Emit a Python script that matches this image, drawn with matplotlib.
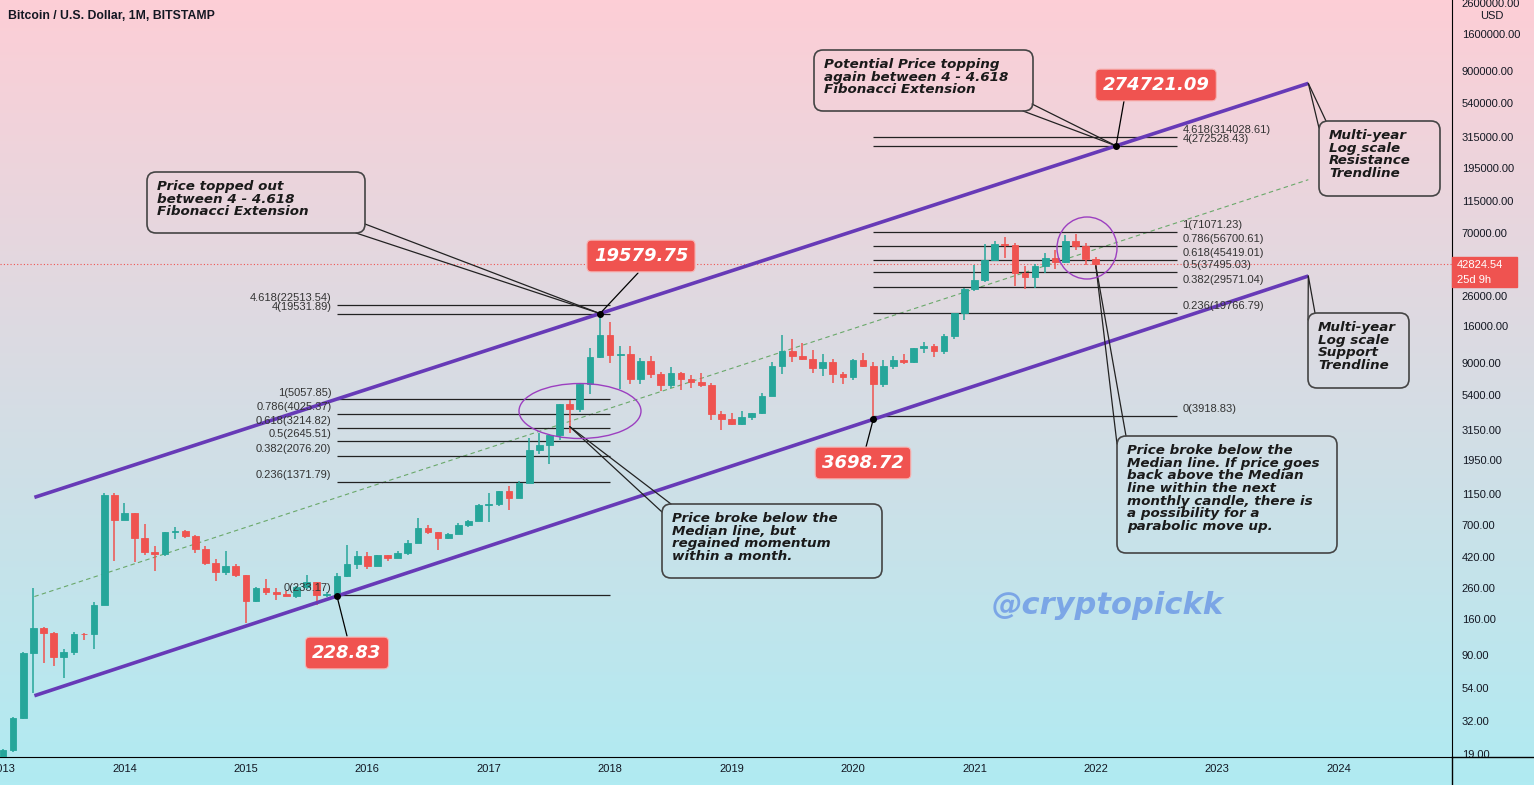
import matplotlib
matplotlib.use("Agg")
import matplotlib.pyplot as plt
import numpy as np
from matplotlib.patches import FancyBboxPatch, Ellipse, Rectangle
from matplotlib.lines import Line2D
from matplotlib.ticker import NullLocator
from matplotlib.transforms import IdentityTransform

W, H = 1534, 785
PIX = IdentityTransform()

# ---- data: BTC/USD monthly candles, Jan 2013 .. Jan 2022 (month 0 = Jan 2013)
opens = [13.5, 20.4, 33.4, 93, 139, 127, 87, 95, 126, 125, 199, 1130,
         760, 840, 567, 459, 445, 630, 640, 585, 480, 385, 335, 370,
         318, 212, 258, 245, 236, 230, 264, 285, 233, 236, 315, 380,
         432, 368, 437, 416, 448, 531, 673, 624, 574, 609, 700, 742,
         964, 970, 1190, 1080, 1348, 2300, 2480, 2870, 4735, 4340, 6450, 9950,
         13880, 10240, 10330, 6930, 9240, 7500, 6400, 7730, 7030, 6630, 6360, 4040,
         3740, 3450, 3820, 4100, 5320, 8550, 10800, 10080, 9600, 8300, 9150, 7540,
         7180, 9350, 8540, 6410, 8630, 9450, 9140, 11350, 11660, 10780, 13800, 19700,
         28990, 33110, 45160, 58800, 57700, 37300, 35040, 41490, 47100, 43800, 61300, 57000,
         46200]
highs = [20.7, 33.9, 95, 260, 140, 130, 100, 130, 128, 210, 1163, 1163,
         990, 846, 711, 500, 630, 680, 650, 600, 500, 410, 465, 380,
         320, 265, 300, 260, 247, 268, 320, 285, 245, 330, 510, 465,
         460, 440, 439, 467, 550, 780, 700, 627, 614, 720, 755, 980,
         1153, 1200, 1290, 1400, 2760, 3000, 2930, 4740, 4980, 6470, 11400, 19580,
         17170, 11780, 11700, 9750, 10020, 7780, 8500, 7760, 7410, 7680, 6600, 4240,
         4070, 4200, 4120, 5620, 9100, 13880, 13130, 12320, 10950, 10370, 9520, 7750,
         9580, 10500, 9190, 9460, 10070, 10380, 11440, 12470, 12070, 14100, 19500, 29300,
         41950, 58350, 61780, 64900, 59500, 41300, 42400, 50500, 52900, 67000, 69000, 59100,
         47990]
lows = [13.0, 19.5, 33, 50, 80, 76, 63, 90, 115, 100, 198, 400,
        760, 390, 440, 340, 430, 560, 575, 450, 375, 290, 320, 310,
        150, 210, 232, 215, 228, 222, 255, 200, 226, 236, 310, 350,
        350, 366, 395, 414, 436, 525, 606, 470, 565, 605, 680, 742,
        740, 940, 890, 1070, 1348, 2130, 1830, 2670, 2980, 4150, 5500, 9700,
        9000, 5920, 6450, 6430, 7040, 5750, 6070, 5880, 6100, 6200, 3650, 3120,
        3400, 3390, 3670, 4050, 5320, 7520, 9080, 9400, 7710, 7300, 6520, 6430,
        6860, 8450, 3850, 6150, 8120, 8910, 8980, 10540, 9880, 10380, 13200, 17600,
        28130, 32400, 45000, 47000, 30000, 28800, 29300, 37300, 39600, 43300, 53250, 42000,
        39650]
closes = [20.4, 33.4, 93, 139, 127, 87, 95, 125, 125, 199, 1130, 760,
          840, 567, 459, 445, 630, 640, 585, 480, 385, 335, 370, 318,
          212, 258, 245, 236, 230, 264, 285, 233, 236, 315, 380, 432,
          368, 437, 416, 448, 531, 673, 624, 574, 609, 700, 742, 964,
          970, 1190, 1080, 1348, 2300, 2480, 2870, 4735, 4340, 6450, 9950, 13880,
          10240, 10330, 6930, 9240, 7500, 6400, 7730, 7030, 6630, 6360, 4040, 3740,
          3450, 3820, 4100, 5320, 8550, 10800, 10080, 9600, 8300, 9150, 7540, 7180,
          9350, 8540, 6410, 8630, 9450, 9140, 11350, 11660, 10780, 13800, 19700, 28990,
          33110, 45160, 58800, 57700, 37300, 35040, 41490, 47100, 43800, 61300, 57000, 46200,
          42824.54]

last_price = 42824.54
years = list(range(2013, 2025))
price_ticks = [2600000, 1600000, 900000, 540000, 315000, 195000, 115000, 70000,
               26000, 16000, 9000, 5400, 3150, 1950, 1150, 700, 420, 260, 160,
               90, 54, 32, 19]

# trendline anchors (month, price) and extent
upper_pts = ([59, 110], [19579.75, 274721.09])
lower_pts = ([33, 86], [228.83, 3698.72])
trend_span = [3.1, 129.0]

# fib levels
fib_left_ratio = ["4.618", "4", "1", "0.786", "0.618", "0.5", "0.382", "0.236", "0"]
fib_left_price = [22513.54, 19531.89, 5057.85, 4025.37, 3214.82, 2645.51, 2076.20, 1371.79, 233.17]
fib_left_span = [33, 60]
fib_right_ratio = ["4.618", "4", "1", "0.786", "0.618", "0.5", "0.382", "0.236", "0"]
fib_right_price = [314028.61, 272528.43, 71071.23, 56700.61, 45419.01, 37495.03, 29571.04, 19766.79, 3918.83]
fib_right_span = [86, 116]

# marked points
mark_months = [110, 59, 33, 86]
mark_prices = [274721.09, 19579.75, 228.83, 3698.72]

GREEN = "#26a69a"
RED = "#ef5350"
PURPLE = "#673ab7"
TXT = "#131722"

fig = plt.figure(figsize=(W / 100, H / 100), dpi=100)

# gradient background
bg = fig.add_axes([0, 0, 1, 1], zorder=0)
top = np.array([253, 206, 214]) / 255
bot = np.array([176, 235, 242]) / 255
t = np.linspace(0, 1, 256)[:, None]
grad = top[None, None, :] * (1 - t[..., None]) + bot[None, None, :] * t[..., None]
bg.imshow(np.repeat(grad, 2, axis=1), aspect="auto", extent=[0, 1, 0, 1])
bg.axis("off")

ax = fig.add_axes([0, 28 / H, 1452 / W, 757 / H], zorder=1)
ax.set_facecolor("none")
ax.set_yscale("log")
ax.set_xlim(-0.3, 143.2)
ax.set_ylim(18.14, 2.732e6)

months = np.arange(len(opens))
o = np.array(opens, float)
hi = np.array(highs, float)
lo = np.array(lows, float)
c = np.array(closes, float)
cols = np.where(c >= o, GREEN, RED)
ax.vlines(months, lo, hi, colors=cols, lw=1.1, zorder=3)
ax.bar(months, np.abs(c - o), bottom=np.minimum(o, c), width=0.66,
       color=cols, edgecolor=cols, lw=0.6, zorder=4)

# trendlines
xs = np.array(trend_span)
def trend(pts):
    (m1, m2), (p1, p2) = pts
    k = (np.log10(p2) - np.log10(p1)) / (m2 - m1)
    return 10 ** (np.log10(p1) + k * (xs - m1))
up = trend(upper_pts)
dn = trend(lower_pts)
ax.plot(xs, up, color=PURPLE, lw=2.6, zorder=5, solid_capstyle="butt")
ax.plot(xs, dn, color=PURPLE, lw=2.6, zorder=5, solid_capstyle="butt")
ax.plot(xs, np.sqrt(up * dn), color="#6aa86a", lw=0.8, ls=(0, (4, 3)), zorder=2)

# current price dotted line
ax.axhline(last_price, color=RED, lw=0.8, ls=(0, (1, 2)), zorder=2)

# fib levels
for r, p in zip(fib_left_ratio, fib_left_price):
    ax.hlines(p, *fib_left_span, color="#222222", lw=0.9, zorder=2)
    ax.annotate(f"{r}({p:.2f})", (fib_left_span[0], p), xytext=(-4, 5),
                textcoords="offset points", ha="right", va="center",
                fontsize=8, family="Liberation Sans", color="#333333", zorder=6)
for r, p in zip(fib_right_ratio, fib_right_price):
    ax.hlines(p, *fib_right_span, color="#222222", lw=0.9, zorder=2)
    ax.annotate(f"{r}({p:.2f})", (fib_right_span[1], p), xytext=(4, 5),
                textcoords="offset points", ha="left", va="center",
                fontsize=8, family="Liberation Sans", color="#333333", zorder=6)

ax.plot(mark_months, mark_prices, "o", ms=4, color="black", zorder=8)

# axes styling
for s in ["top", "left"]:
    ax.spines[s].set_visible(False)
ax.spines["right"].set_color("black")
ax.spines["bottom"].set_color("black")
ax.yaxis.tick_right()
ax.set_yticks(price_ticks)
ax.set_yticklabels([f"{v:.2f}" for v in price_ticks])
ax.yaxis.set_minor_locator(NullLocator())
ax.set_xticks([12 * (y - 2013) for y in years])
ax.set_xticklabels([str(y) for y in years])
ax.tick_params(axis="y", length=0, pad=7, labelsize=8, labelcolor=TXT)
ax.tick_params(axis="x", length=0, pad=5, labelsize=8, labelcolor=TXT)
for lab in ax.get_xticklabels() + ax.get_yticklabels():
    lab.set_family("Liberation Sans")

# axis frame continuation
fig.add_artist(Line2D([1452, W], [H - 757, H - 757], color="black", lw=1, transform=PIX))
fig.add_artist(Line2D([1452, 1452], [0, H - 757], color="black", lw=1, transform=PIX))

fig.text(8, H - 16, "Bitcoin / U.S. Dollar, 1M, BITSTAMP", transform=PIX,
         fontsize=8.8, fontweight="bold", family="Liberation Sans", color=TXT, va="center")
fig.text(1492, H - 16, "USD", transform=PIX, fontsize=8, family="Liberation Sans",
         color=TXT, ha="center", va="center")

# last price tag on axis
fig.add_artist(Rectangle((1452, H - 287), 65, 30, color=RED, transform=PIX, zorder=5))
fig.text(1457, H - 265, "42824.54", transform=PIX, fontsize=8, family="Liberation Sans",
         color="white", va="center", zorder=6)
fig.text(1457, H - 280, "25d 9h", transform=PIX, fontsize=8, family="Liberation Sans",
         color="white", va="center", zorder=6)

# ellipses
for cx, cy, ew, eh in [(580, 411, 122, 55), (1087, 248, 60, 62)]:
    fig.add_artist(Ellipse((cx, H - cy), ew, eh, fill=False, ec="#9c3fc0",
                           lw=1.0, transform=PIX, zorder=6))

# callouts: box (x0, y0, x1, y1), text, pointer start points, target
callouts = [
    ((147, 172, 365, 233), "Price topped out\nbetween 4 - 4.618\nFibonacci Extension",
     [(356, 233), (365, 224)], (59, 19579.75)),
    ((814, 50, 1033, 111), "Potential Price topping\nagain between 4 - 4.618\nFibonacci Extension",
     [(1023, 111), (1032, 104)], (110, 274721.09)),
    ((1319, 121, 1440, 196), "Multi-year\nLog scale\nResistance\nTrendline",
     [(1319, 128), (1326, 121)], (trend_span[1], up[-1])),
    ((1308, 313, 1409, 388), "Multi-year\nLog scale\nSupport\nTrendline",
     [(1308, 320), (1315, 313)], (trend_span[1], dn[-1])),
    ((1117, 436, 1337, 553), "Price broke below the\nMedian line. If price goes\nback above the Median\n"
     "line within the next\nmonthly candle, there is\na possibility for a\nparabolic move up.",
     [(1117, 444), (1126, 436)], (108, 41500)),
    ((662, 504, 882, 578), "Price broke below the\nMedian line, but\nregained momentum\nwithin a month.",
     [(662, 512), (671, 504)], (56, 3300)),
]
for (x0, y0, x1, y1), txt, starts, target in callouts:
    fig.add_artist(FancyBboxPatch((x0, H - y1), x1 - x0, y1 - y0,
                                  boxstyle="round,pad=0,rounding_size=9",
                                  fc="none", ec="#444444", lw=1.2, transform=PIX, zorder=6))
    fig.text(x0 + 10, H - y0 - 8, txt, transform=PIX, fontsize=9.7, fontweight="bold",
             style="italic", color="#1a1a1a", va="top", ha="left", linespacing=0.97, zorder=7)
    for sx, sy in starts:
        ax.annotate("", xy=target, xycoords="data", xytext=(sx, H - sy),
                    textcoords="figure pixels", annotation_clip=False,
                    arrowprops=dict(arrowstyle="-", color="#222222", lw=0.9,
                                    shrinkA=0, shrinkB=0), zorder=7)

# red value tags
tags = [(1156, 85, 1124, 101), (641, 256, 638, 273), (347, 653, 347, 636), (863, 463, 866, 447)]
for (cx, cy, lx, ly), m, p in zip(tags, mark_months, mark_prices):
    ax.annotate("", xy=(m, p), xycoords="data", xytext=(lx, H - ly),
                textcoords="figure pixels", annotation_clip=False,
                arrowprops=dict(arrowstyle="-", color="black", lw=0.9, shrinkA=0, shrinkB=0),
                zorder=7)
    fig.text(cx, H - cy, f"{p:.2f}", transform=PIX, fontsize=13, fontweight="bold",
             style="italic", color="white", ha="center", va="center", zorder=8,
             bbox=dict(boxstyle="round,pad=0.38,rounding_size=0.25", fc="#f05350",
                       ec="#f7b3b2", lw=0.8))

# watermark
fig.text(1108, H - 606, "@cryptopickk", transform=PIX, fontsize=22, fontweight="bold",
         style="italic", color="#6f9be6", alpha=0.85, ha="center", va="center", zorder=3)

fig.savefig("out.png", dpi=100)
